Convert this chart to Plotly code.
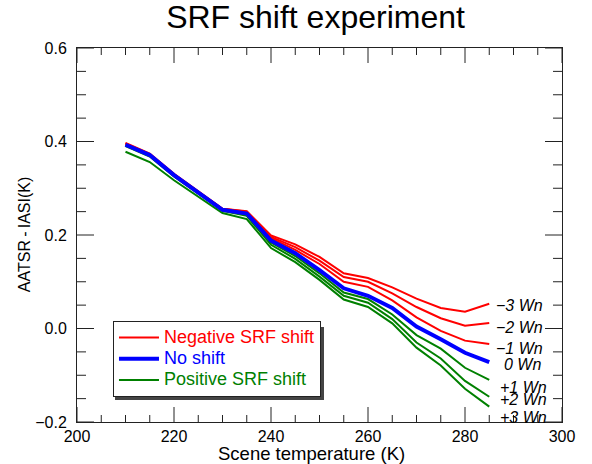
import numpy as np
import plotly.graph_objects as go

# ---- data ----
scene_temp = [210, 215, 220, 225, 230, 235, 240, 245, 250, 255, 260, 265, 270, 275, 280, 285]

neg3 = [0.397, 0.374, 0.331, 0.294, 0.256, 0.251, 0.199, 0.180, 0.153, 0.118, 0.108, 0.088, 0.064, 0.044, 0.036, 0.053]
neg2 = [0.396, 0.373, 0.330, 0.293, 0.256, 0.250, 0.196, 0.174, 0.145, 0.110, 0.100, 0.075, 0.046, 0.022, 0.006, 0.012]
neg1 = [0.395, 0.372, 0.329, 0.292, 0.255, 0.249, 0.193, 0.168, 0.138, 0.100, 0.089, 0.060, 0.024, -0.005, -0.026, -0.033]
zero = [0.393, 0.371, 0.328, 0.291, 0.254, 0.246, 0.188, 0.161, 0.125, 0.086, 0.070, 0.044, 0.004, -0.023, -0.052, -0.072]
pos1 = [0.392, 0.370, 0.327, 0.290, 0.253, 0.244, 0.184, 0.155, 0.118, 0.077, 0.063, 0.030, -0.014, -0.043, -0.084, -0.110]
pos2 = [0.390, 0.368, 0.325, 0.288, 0.252, 0.241, 0.179, 0.149, 0.111, 0.070, 0.055, 0.020, -0.030, -0.064, -0.112, -0.146]
pos3 = [0.378, 0.356, 0.317, 0.282, 0.247, 0.234, 0.172, 0.142, 0.104, 0.062, 0.046, 0.011, -0.041, -0.079, -0.129, -0.167]

shift_labels = ["\u22123 Wn", "\u22122 Wn", "\u22121 Wn", "0 Wn", "+1 Wn", "+2 Wn", "+3 Wn"]
label_y = [0.053, 0.006, -0.038, -0.072, -0.122, -0.147, -0.186]
label_xshift = [0, 0, 0, 8, 4, 4, 4]

x_ticks = [200, 220, 240, 260, 280, 300]
y_ticks = [-0.2, 0.0, 0.2, 0.4, 0.6]
x_minor_step = 5
y_minor_step = 0.05

RED = "#ff0000"
BLUE = "#0000ff"
GREEN = "#008000"
AXC = "#222222"
FONT = "Liberation Sans, Arial, Helvetica, sans-serif"

fig = go.Figure()

for i, s in enumerate([neg3, neg2, neg1]):
    fig.add_trace(go.Scatter(
        x=scene_temp, y=s, mode="lines",
        line=dict(color=RED, width=2),
        name='<span style="color:#ff0000;font-size:18px">Negative SRF shift</span>',
        legendgroup="neg", showlegend=(i == 0), legendrank=1))
for i, s in enumerate([pos1, pos2, pos3]):
    fig.add_trace(go.Scatter(
        x=scene_temp, y=s, mode="lines",
        line=dict(color=GREEN, width=2),
        name='<span style="color:#008000;font-size:18px">Positive SRF shift</span>',
        legendgroup="pos", showlegend=(i == 0), legendrank=3))
fig.add_trace(go.Scatter(
    x=scene_temp, y=zero, mode="lines",
    line=dict(color=BLUE, width=4),
    name='<span style="color:#0000ff;font-size:18px">No shift</span>',
    legendgroup="zero", showlegend=True, legendrank=2))

for txt, yv, xs in zip(shift_labels, label_y, label_xshift):
    fig.add_annotation(x=286.0, y=yv, xref="x", yref="y", text="<i>%s</i>" % txt,
                       showarrow=False, xanchor="left", yanchor="middle", xshift=xs, yshift=-2,
                       font=dict(family=FONT, size=16, color="black"))

# axis titles
fig.add_annotation(x=0.4845, y=-0.084, xref="paper", yref="paper", text="Scene temperature (K)",
                   showarrow=False, xanchor="center", yanchor="middle",
                   font=dict(family=FONT, size=18.5, color="black"))
fig.add_annotation(x=-0.109, y=0.5, xref="paper", yref="paper", text="AATSR\u2009-\u2009IASI(K)",
                   textangle=-90, showarrow=False, xanchor="center", yanchor="middle",
                   font=dict(family=FONT, size=16, color="black"))

# IDL-style inside ticks on all four sides (drawn as pixel-length shapes)
x_all = np.arange(x_ticks[0], x_ticks[-1] + 0.001, x_minor_step)
y_all = np.arange(y_ticks[0], y_ticks[-1] + 0.0001, y_minor_step)
for v in x_all:
    major = any(abs(v - t) < 1e-6 for t in x_ticks)
    L = 15 if major else 7
    for anchor, sign in ((0, 1), (1, -1)):
        fig.add_shape(type="line", xref="x", yref="paper", x0=float(v), x1=float(v),
                      ysizemode="pixel", yanchor=anchor, y0=0, y1=sign * L,
                      line=dict(color=AXC, width=1), layer="above")
for v in y_all:
    major = any(abs(v - t) < 1e-6 for t in y_ticks)
    L = 17 if major else 9
    for anchor, sign in ((0, 1), (1, -1)):
        fig.add_shape(type="line", xref="paper", yref="y", y0=float(v), y1=float(v),
                      xsizemode="pixel", xanchor=anchor, x0=0, x1=sign * L,
                      line=dict(color=AXC, width=1), layer="above")

# legend shadow
fig.add_shape(type="rect", xref="paper", yref="paper",
              x0=(115 - 77) / 485, x1=(324 - 77) / 485,
              y0=(422 - 400) / 374, y1=(422 - 327) / 374,
              fillcolor="#444", line=dict(width=0), layer="above")

axis_common = dict(showgrid=False, zeroline=False, showline=True, linecolor=AXC, linewidth=1,
                   mirror=True, ticks="", tickfont=dict(family=FONT, size=16, color="black"))
fig.update_xaxes(range=[200, 300], tickmode="array", tickvals=x_ticks, ticklabelstandoff=0, **axis_common)
fig.update_yaxes(range=[-0.2, 0.6], tickmode="array", tickvals=y_ticks, tickformat=".1f",
                 ticklabelstandoff=6, **axis_common)

fig.update_layout(
    width=592, height=464,
    margin=dict(l=77, r=30, t=48, b=42),
    paper_bgcolor="white", plot_bgcolor="white",
    title=dict(text="SRF shift experiment", x=0.533, xanchor="center", y=0.963, yanchor="middle",
               font=dict(family=FONT, size=32, color="black")),
    legend=dict(x=0.0742, y=0.0668, xanchor="left", yanchor="bottom",
                bgcolor="white", bordercolor=AXC, borderwidth=1,
                font=dict(family=FONT, size=14), traceorder="normal",
                itemwidth=40, tracegroupgap=0),
    showlegend=True,
)

fig.write_html("out.html")
